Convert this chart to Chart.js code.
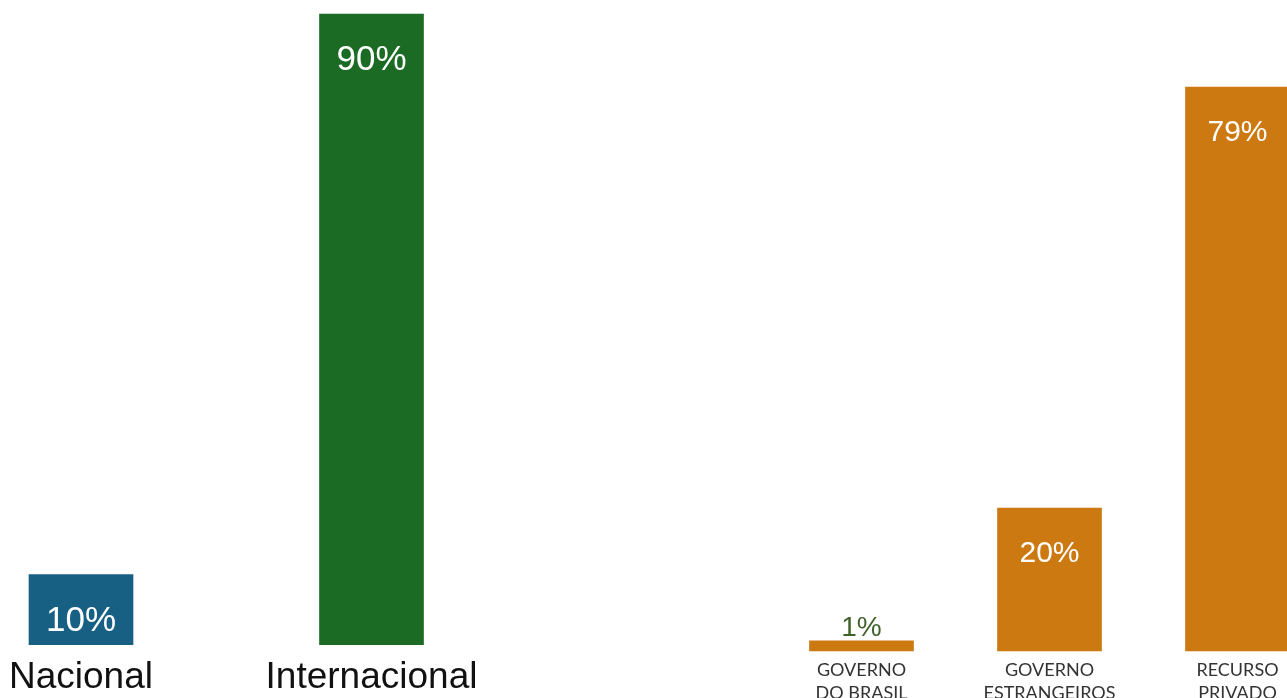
<!DOCTYPE html>
<html>
<head>
<meta charset="utf-8">
<script src="https://cdn.jsdelivr.net/npm/chart.js@4.4.1/dist/chart.umd.min.js"></script>
<style>
  html, body { margin: 0; padding: 0; background: #fff; overflow: hidden; }
  #esq { position: absolute; left: 0; top: 0; }
  #dir { position: absolute; left: 560px; top: 0; }
</style>
</head>
<body>
<canvas id="esq" width="560" height="711"></canvas>
<canvas id="dir" width="727" height="713"></canvas>
<script>
// Dados - origem dos recursos
const origemLabels = ["Nacional", "Internacional"];
const origemValores = [10, 90];

// Dados - fonte dos recursos
const fonteLabels = [["GOVERNO", "DO BRASIL"], ["GOVERNO", "ESTRANGEIROS"], ["RECURSO", "PRIVADO"]];
const fonteValores = [1, 20, 79];

// Plugin para escrever os percentuais nas barras
function rotulosPlugin(fonte, deslocamento) {
  return {
    id: "rotulos",
    afterDatasetsDraw(chart) {
      const ctx = chart.ctx;
      const meta = chart.getDatasetMeta(0);
      const dados = chart.data.datasets[0].data;
      ctx.save();
      ctx.textAlign = "center";
      ctx.textBaseline = "alphabetic";
      meta.data.forEach((barra, i) => {
        const v = dados[i];
        if (v < 5) {
          ctx.fillStyle = "#41612a";
          ctx.font = "28px 'Liberation Sans', Arial, sans-serif";
          ctx.fillText(v + "%", barra.x, barra.y - 5);
        } else {
          ctx.fillStyle = "#ffffff";
          ctx.font = fonte;
          ctx.fillText(v + "%", barra.x, barra.y + deslocamento);
        }
      });
      ctx.restore();
    }
  };
}

// sem folga extra para os rótulos das pontas
function semFolga(scale) {
  scale.paddingLeft = 0;
  scale.paddingRight = 0;
}

new Chart(document.getElementById("esq").getContext("2d"), {
  type: "bar",
  data: {
    labels: origemLabels,
    datasets: [{
      data: origemValores,
      backgroundColor: ["#176084", "#1c6b25"],
      barThickness: 104,
      clip: false
    }]
  },
  options: {
    responsive: false,
    animation: false,
    layout: { padding: { left: 81, right: 188.5, top: 14, bottom: 0 } },
    plugins: { legend: { display: false }, tooltip: { enabled: false } },
    scales: {
      x: {
        offset: false,
        afterFit: semFolga,
        grid: { display: false, drawTicks: false },
        border: { display: false },
        ticks: {
          padding: 11,
          color: "#111",
          font: { family: "'Liberation Sans', Arial, sans-serif", size: 37, lineHeight: 1.2 }
        }
      },
      y: { display: false, min: 0, max: 90 }
    }
  },
  plugins: [rotulosPlugin("35px 'Liberation Sans', Arial, sans-serif", 56)]
});

new Chart(document.getElementById("dir").getContext("2d"), {
  type: "bar",
  data: {
    labels: fonteLabels,
    datasets: [{
      data: fonteValores,
      backgroundColor: "#cd7912",
      barThickness: 104,
      minBarLength: 10,
      clip: false
    }]
  },
  options: {
    responsive: false,
    animation: false,
    layout: { padding: { left: 301.5, right: 49.5, top: 87, bottom: 0 } },
    plugins: { legend: { display: false }, tooltip: { enabled: false } },
    scales: {
      x: {
        offset: false,
        afterFit: semFolga,
        grid: { display: false, drawTicks: false },
        border: { display: false },
        ticks: {
          padding: 8,
          color: "#333",
          font: { family: "Lato, sans-serif", size: 18, lineHeight: 1.28 }
        }
      },
      y: { display: false, min: 0, max: 79 }
    }
  },
  plugins: [rotulosPlugin("30px 'Liberation Sans', Arial, sans-serif", 54)]
});
</script>
</body>
</html>
